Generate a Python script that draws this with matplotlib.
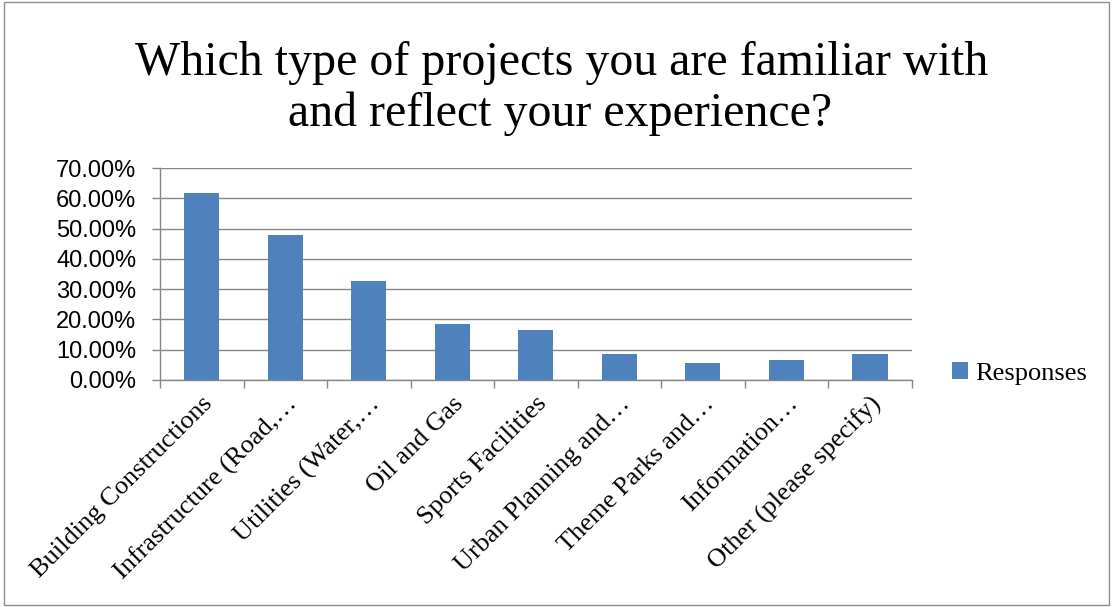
import matplotlib
matplotlib.use("Agg")
import matplotlib.pyplot as plt
from matplotlib.patches import Rectangle
from matplotlib.ticker import FuncFormatter, FixedLocator
import numpy as np

categories = [
    "Building Constructions",
    "Infrastructure (Road,\u2026",
    "Utilities (Water,\u2026",
    "Oil and Gas",
    "Sports Facilities",
    "Urban Planning and\u2026",
    "Theme Parks and\u2026",
    "Information\u2026",
    "Other (please specify)",
]
responses = [61.7, 47.8, 32.8, 18.5, 16.5, 8.6, 5.7, 6.7, 8.6]
yticks = [0, 10, 20, 30, 40, 50, 60, 70]
title_lines = ["Which type of projects you are familiar with",
               "and reflect your experience?"]
series_name = "Responses"

serif = "Liberation Serif"
sans = "Liberation Sans"
bar_color = "#4F81BD"
grid_color = "#868686"

fig = plt.figure(figsize=(11.12, 6.07), dpi=100)
ax = fig.add_axes([0.1439, 0.374, 0.676, 0.349])

x = np.arange(len(categories))
ax.bar(x, responses, width=0.42, color=bar_color, label=series_name, zorder=3)

ax.set_xlim(-0.5, len(categories) - 0.5)
ax.set_ylim(0, 70)
ax.set_yticks(yticks)
ax.yaxis.set_major_formatter(FuncFormatter(lambda v, p: f"{v:.2f}%"))
ax.grid(axis="y", color=grid_color, linewidth=1.0, zorder=0)

ax.set_xticks(x)
ax.set_xticklabels(categories, rotation=45, ha="right", va="top",
                   rotation_mode="anchor", fontfamily=serif, fontsize=19)
ax.tick_params(axis="x", which="major", length=0, pad=9)
ax.xaxis.set_minor_locator(FixedLocator(np.arange(-0.5, len(categories), 1.0)))
ax.tick_params(axis="x", which="minor", length=6, color=grid_color, width=1)
ax.tick_params(axis="y", length=6, color=grid_color, width=1, labelsize=17, pad=11)
for lab in ax.get_yticklabels():
    lab.set_fontfamily(sans)

for s in ["top", "right"]:
    ax.spines[s].set_visible(False)
for s in ["left", "bottom"]:
    ax.spines[s].set_color(grid_color)
    ax.spines[s].set_linewidth(1.0)

fig.text(0.505, 0.876, title_lines[0], ha="center", va="baseline",
         fontfamily=serif, fontsize=34.5)
fig.text(0.504, 0.792, title_lines[1], ha="center", va="baseline",
         fontfamily=serif, fontsize=34.5)

leg = ax.legend(loc="center left", bbox_to_anchor=(1.04, 0.03), frameon=False,
                prop={"family": serif, "size": 19}, handlelength=0.6,
                handleheight=0.6, handletextpad=0.25, borderaxespad=0)

fig.patches.append(Rectangle((0.004, 0.004), 0.993, 0.992, transform=fig.transFigure,
                             fill=False, edgecolor="#8c8c8c", linewidth=1.0))

fig.savefig("out.png", dpi=100)
